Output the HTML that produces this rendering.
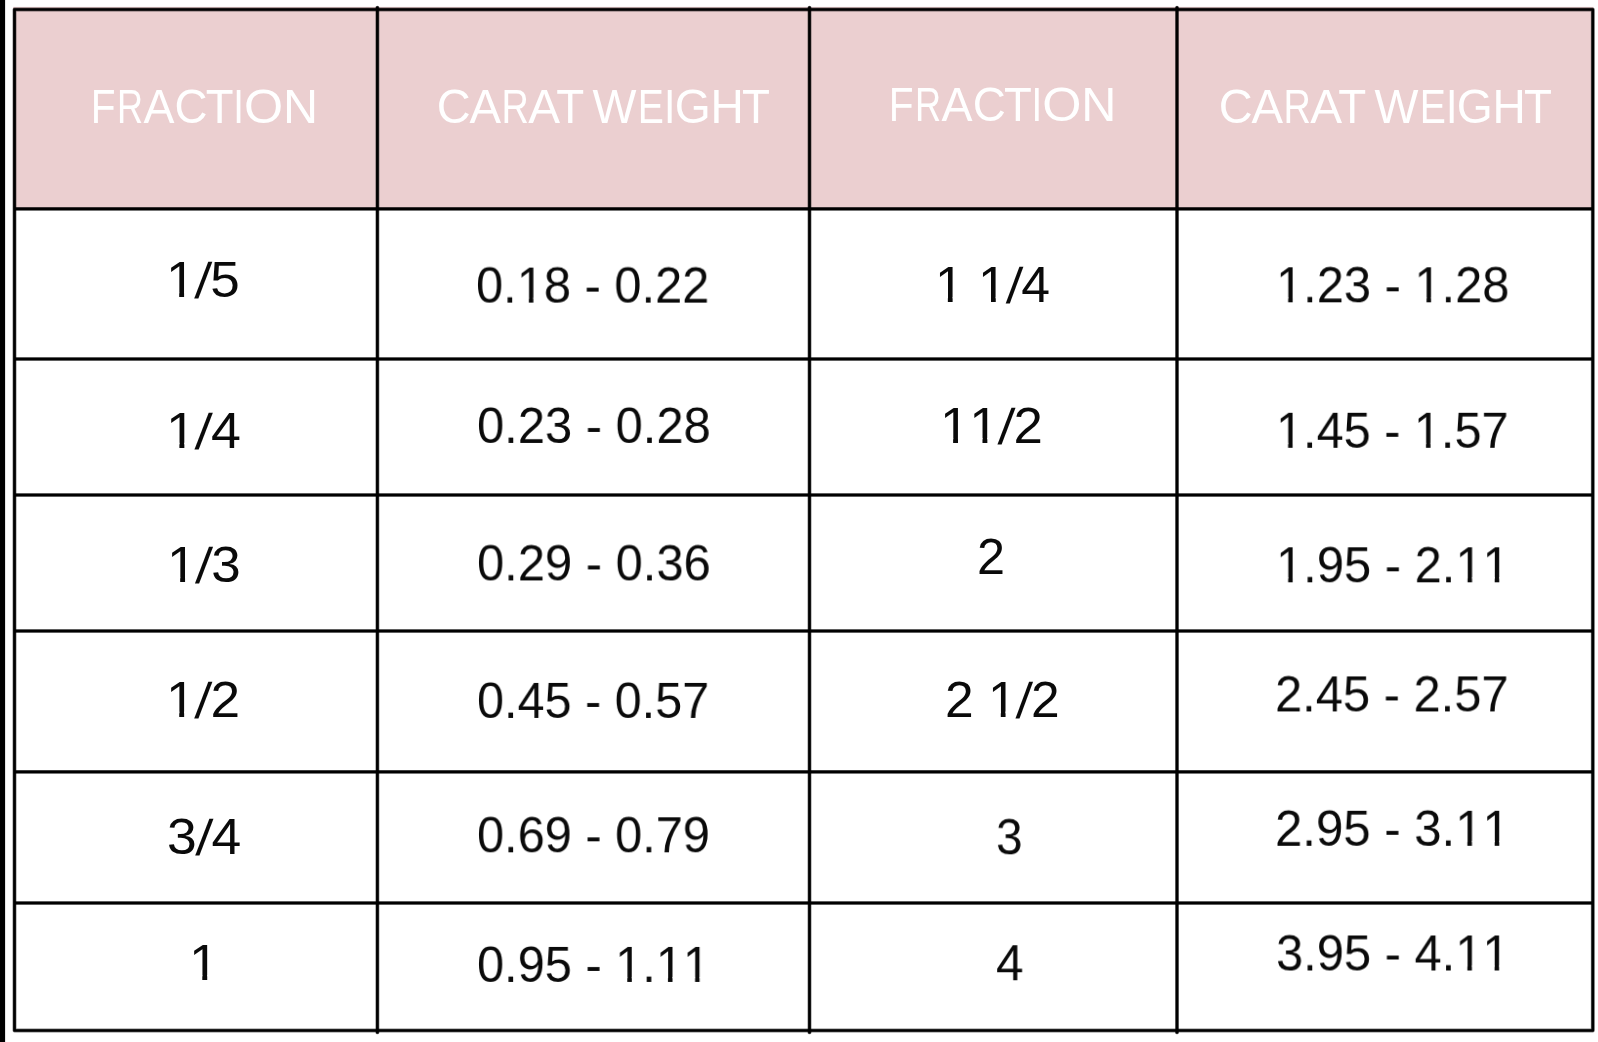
<!DOCTYPE html>
<html><head><meta charset="utf-8"><title>Carat weight chart</title>
<style>
html,body{margin:0;padding:0;background:#fff;}
body{width:1598px;height:1042px;position:relative;overflow:hidden;font-family:"Liberation Sans",sans-serif;}
.g{position:absolute;left:0;top:0;display:block;}
.t{position:absolute;white-space:pre;line-height:1;transform-origin:0 0;will-change:transform;font-kerning:none;}
.h{font-size:47.2px;color:#fff;}
.l{display:inline-block;width:0;transform-origin:0 0;}
.b{font-size:50.0px;color:#0a0a0a;}
.s{display:inline-block;transform:translateY(0.02em) skewX(-5deg);}
.o{display:inline-block;clip-path:polygon(0 0,100% 0,100% 74%,61.3% 74%,61.3% 100%,44.7% 100%,44.7% 74%,0 74%);}
</style></head><body>
<svg class="g" width="1598" height="1042" viewBox="0 0 1598 1042">
<rect x="13" y="6.9" width="1580.4" height="202" fill="#EBCFD0"/>
<rect x="0" y="0" width="5.1" height="1042" fill="#000"/>
<rect x="14.5" y="9.5" width="1578.30" height="1021.00" fill="none" stroke="#000" stroke-opacity="0.5" stroke-width="3.9" stroke-linejoin="round"/>
<rect x="14.5" y="9.5" width="1578.30" height="1021.00" fill="none" stroke="#000" stroke-width="2.7" stroke-linejoin="round"/>
<line x1="14.5" y1="208.9" x2="1592.8" y2="208.9" fill="none" stroke="#000" stroke-opacity="0.5" stroke-width="3.9"/>
<line x1="14.5" y1="208.9" x2="1592.8" y2="208.9" fill="none" stroke="#000" stroke-width="2.7"/>
<line x1="14.5" y1="359.0" x2="1592.8" y2="359.0" fill="none" stroke="#000" stroke-opacity="0.5" stroke-width="3.9"/>
<line x1="14.5" y1="359.0" x2="1592.8" y2="359.0" fill="none" stroke="#000" stroke-width="2.7"/>
<line x1="14.5" y1="495.0" x2="1592.8" y2="495.0" fill="none" stroke="#000" stroke-opacity="0.5" stroke-width="3.9"/>
<line x1="14.5" y1="495.0" x2="1592.8" y2="495.0" fill="none" stroke="#000" stroke-width="2.7"/>
<line x1="14.5" y1="631.0" x2="1592.8" y2="631.0" fill="none" stroke="#000" stroke-opacity="0.5" stroke-width="3.9"/>
<line x1="14.5" y1="631.0" x2="1592.8" y2="631.0" fill="none" stroke="#000" stroke-width="2.7"/>
<line x1="14.5" y1="771.9" x2="1592.8" y2="771.9" fill="none" stroke="#000" stroke-opacity="0.5" stroke-width="3.9"/>
<line x1="14.5" y1="771.9" x2="1592.8" y2="771.9" fill="none" stroke="#000" stroke-width="2.7"/>
<line x1="14.5" y1="903.0" x2="1592.8" y2="903.0" fill="none" stroke="#000" stroke-opacity="0.5" stroke-width="3.9"/>
<line x1="14.5" y1="903.0" x2="1592.8" y2="903.0" fill="none" stroke="#000" stroke-width="2.7"/>
<line x1="377.4" y1="7.6" x2="377.4" y2="1032.4" fill="none" stroke="#000" stroke-opacity="0.5" stroke-width="3.9" stroke-linecap="round"/>
<line x1="377.4" y1="7.6" x2="377.4" y2="1032.4" fill="none" stroke="#000" stroke-width="2.7" stroke-linecap="round"/>
<line x1="809.5" y1="7.6" x2="809.5" y2="1032.4" fill="none" stroke="#000" stroke-opacity="0.5" stroke-width="3.9" stroke-linecap="round"/>
<line x1="809.5" y1="7.6" x2="809.5" y2="1032.4" fill="none" stroke="#000" stroke-width="2.7" stroke-linecap="round"/>
<line x1="1177.0" y1="7.6" x2="1177.0" y2="1032.4" fill="none" stroke="#000" stroke-opacity="0.5" stroke-width="3.9" stroke-linecap="round"/>
<line x1="1177.0" y1="7.6" x2="1177.0" y2="1032.4" fill="none" stroke="#000" stroke-width="2.7" stroke-linecap="round"/>
</svg>
<span class="t h" style="left:94.00px;top:82px;transform:translateY(0.90px)"><span class="l" style="transform:translateX(-3.17px) scaleX(0.8602)">F</span><span class="l" style="transform:translateX(23.08px) scaleX(0.7649)">R</span><span class="l" style="transform:translateX(49.40px) scaleX(0.9838)">A</span><span class="l" style="transform:translateX(80.56px) scaleX(0.9690)">C</span><span class="l" style="transform:translateX(111.79px) scaleX(0.9638)">T</span><span class="l" style="transform:translateX(139.30px) scaleX(0.8136)">I</span><span class="l" style="transform:translateX(150.04px) scaleX(1.0663)">O</span><span class="l" style="transform:translateX(189.11px) scaleX(1.0282)">N</span></span>
<span class="t h" style="left:438.80px;top:82px;transform:translateY(0.90px)"><span class="l" style="transform:translateX(-2.20px) scaleX(0.9952)">C</span><span class="l" style="transform:translateX(30.39px) scaleX(1.0025)">A</span><span class="l" style="transform:translateX(62.52px) scaleX(0.8029)">R</span><span class="l" style="transform:translateX(89.17px) scaleX(1.0119)">A</span><span class="l" style="transform:translateX(117.15px) scaleX(0.9708)">T</span><span class="l"> </span><span class="l" style="transform:translateX(153.45px) scaleX(0.9866)">W</span><span class="l" style="transform:translateX(198.78px) scaleX(0.8288)">E</span><span class="l" style="transform:translateX(225.12px) scaleX(0.8714)">I</span><span class="l" style="transform:translateX(235.66px) scaleX(0.9811)">G</span><span class="l" style="transform:translateX(271.42px) scaleX(0.9752)">H</span><span class="l" style="transform:translateX(302.99px) scaleX(0.9708)">T</span></span>
<span class="t h" style="left:891.90px;top:81px;transform:translateY(0.20px)"><span class="l" style="transform:translateX(-3.18px) scaleX(0.8613)">F</span><span class="l" style="transform:translateX(23.11px) scaleX(0.7659)">R</span><span class="l" style="transform:translateX(49.47px) scaleX(0.9852)">A</span><span class="l" style="transform:translateX(80.67px) scaleX(0.9703)">C</span><span class="l" style="transform:translateX(111.94px) scaleX(0.9651)">T</span><span class="l" style="transform:translateX(139.49px) scaleX(0.8147)">I</span><span class="l" style="transform:translateX(150.25px) scaleX(1.0677)">O</span><span class="l" style="transform:translateX(189.37px) scaleX(1.0296)">N</span></span>
<span class="t h" style="left:1220.50px;top:83px;transform:translateY(0.10px)"><span class="l" style="transform:translateX(-2.20px) scaleX(0.9952)">C</span><span class="l" style="transform:translateX(30.39px) scaleX(1.0025)">A</span><span class="l" style="transform:translateX(62.52px) scaleX(0.8029)">R</span><span class="l" style="transform:translateX(89.17px) scaleX(1.0119)">A</span><span class="l" style="transform:translateX(117.15px) scaleX(0.9708)">T</span><span class="l"> </span><span class="l" style="transform:translateX(153.45px) scaleX(0.9866)">W</span><span class="l" style="transform:translateX(198.78px) scaleX(0.8288)">E</span><span class="l" style="transform:translateX(225.12px) scaleX(0.8714)">I</span><span class="l" style="transform:translateX(235.66px) scaleX(0.9811)">G</span><span class="l" style="transform:translateX(271.42px) scaleX(0.9752)">H</span><span class="l" style="transform:translateX(302.99px) scaleX(0.9708)">T</span></span>
<span class="t b" style="left:166.41px;top:255px;transform:translateY(0.40px) scaleX(1.0609)"><span class="o">1</span><span class="s">/</span>5</span>
<span class="t b" style="left:476.28px;top:260px;transform:translateY(0.60px) scaleX(0.9759)">0.<span class="o">1</span>8 - 0.22</span>
<span class="t b" style="left:935.24px;top:260px;transform:translateY(0.30px) scaleX(1.0337)"><span class="o">1</span> <span class="o">1</span><span class="s">/</span>4</span>
<span class="t b" style="left:1275.81px;top:260px;transform:translateY(0.30px) scaleX(0.9762)"><span class="o">1</span>.23 - <span class="o">1</span>.28</span>
<span class="t b" style="left:166.43px;top:405px;transform:translateY(0.70px) scaleX(1.0762)"><span class="o">1</span><span class="s">/</span>4</span>
<span class="t b" style="left:476.67px;top:400px;transform:translateY(0.90px) scaleX(0.9776)">0.23 - 0.28</span>
<span class="t b" style="left:940.23px;top:401px;transform:translateY(0.10px) scaleX(1.0554)"><span class="o">1</span><span class="o">1</span><span class="s">/</span>2</span>
<span class="t b" style="left:1275.83px;top:405px;transform:translateY(0.80px) scaleX(0.9727)"><span class="o">1</span>.45 - <span class="o">1</span>.57</span>
<span class="t b" style="left:166.52px;top:540px;transform:translateY(0.20px) scaleX(1.0593)"><span class="o">1</span><span class="s">/</span>3</span>
<span class="t b" style="left:476.67px;top:538px;transform:translateY(0.40px) scaleX(0.9776)">0.29 - 0.36</span>
<span class="t b" style="left:976.84px;top:532px;transform:translateY(0.00px) scaleX(1.0069)">2</span>
<span class="t b" style="left:1275.81px;top:540px;transform:translateY(0.30px) scaleX(0.9777)"><span class="o">1</span>.95 - 2.<span class="o">1</span><span class="o">1</span></span>
<span class="t b" style="left:166.49px;top:674px;transform:translateY(0.60px) scaleX(1.0641)"><span class="o">1</span><span class="s">/</span>2</span>
<span class="t b" style="left:476.68px;top:675px;transform:translateY(0.90px) scaleX(0.9712)">0.45 - 0.57</span>
<span class="t b" style="left:944.68px;top:674px;transform:translateY(0.60px) scaleX(1.0306)">2 <span class="o">1</span><span class="s">/</span>2</span>
<span class="t b" style="left:1274.81px;top:669px;transform:translateY(0.40px) scaleX(0.9770)">2.45 - 2.57</span>
<span class="t b" style="left:166.73px;top:811px;transform:translateY(0.80px) scaleX(1.0690)">3<span class="s">/</span>4</span>
<span class="t b" style="left:476.68px;top:810px;transform:translateY(0.30px) scaleX(0.9742)">0.69 - 0.79</span>
<span class="t b" style="left:995.81px;top:812px;transform:translateY(0.30px) scaleX(0.9538)">3</span>
<span class="t b" style="left:1274.80px;top:803px;transform:translateY(0.80px) scaleX(0.9821)">2.95 - 3.<span class="o">1</span><span class="o">1</span></span>
<span class="t b" style="left:189.07px;top:938px;transform:translateY(0.30px) scaleX(1.0688)"><span class="o">1</span></span>
<span class="t b" style="left:476.68px;top:939px;transform:translateY(0.90px) scaleX(0.9748)">0.95 - <span class="o">1</span>.<span class="o">1</span><span class="o">1</span></span>
<span class="t b" style="left:996.13px;top:938px;transform:translateY(0.20px) scaleX(0.9891)">4</span>
<span class="t b" style="left:1275.97px;top:928px;transform:translateY(0.50px) scaleX(0.9770)">3.95 - 4.<span class="o">1</span><span class="o">1</span></span>
</body></html>
